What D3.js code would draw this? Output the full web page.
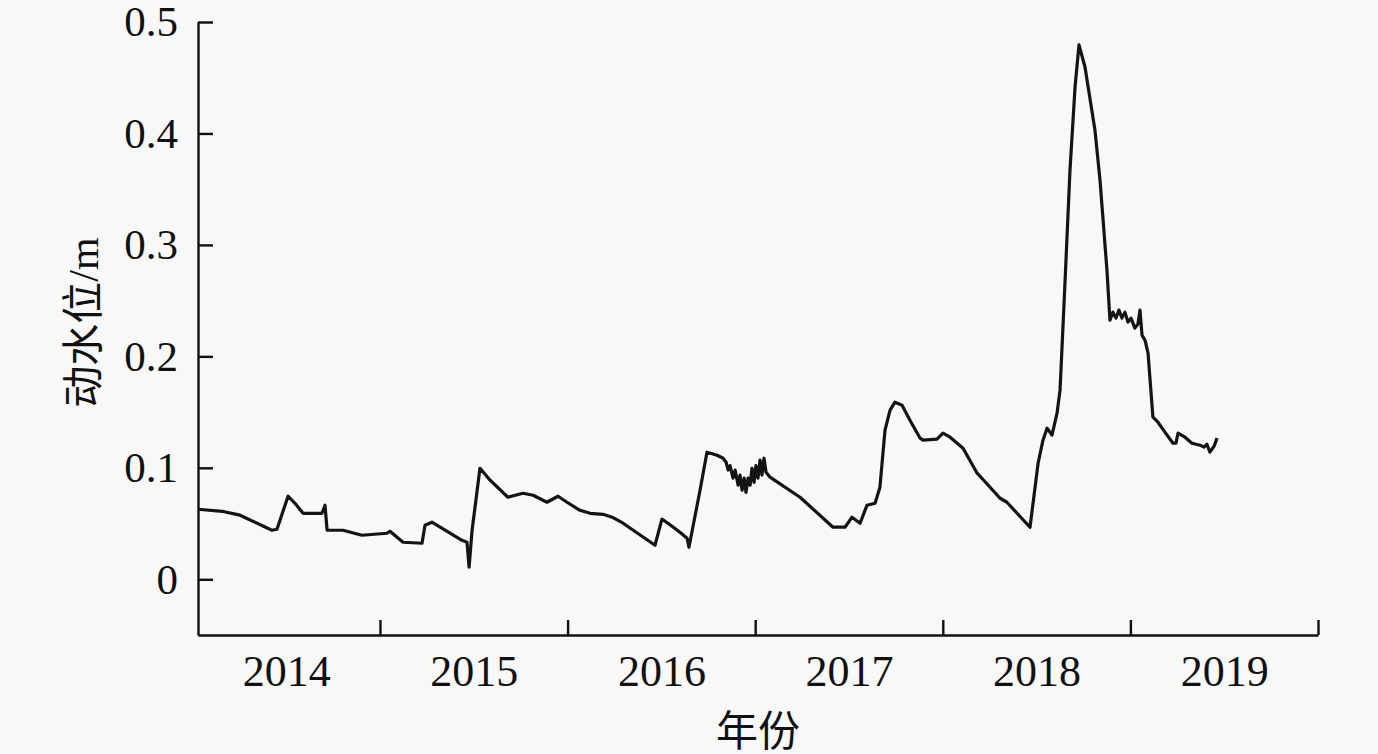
<!DOCTYPE html>
<html>
<head>
<meta charset="utf-8">
<script src="https://cdn.jsdelivr.net/npm/d3@7"></script>
<style>
  html, body { margin: 0; padding: 0; background: #f8f8f8; }
  svg { display: block; }
  text { font-family: "Liberation Serif", "Times New Roman", "Noto Sans CJK SC", serif; fill: #111; }
</style>
</head>
<body>
<svg id="chart" width="1378" height="754"></svg>
<script>
// ---- data (fractional year, dynamic water level in m) ----
const years = [
  2014.030, 2014.158, 2014.254, 2014.424, 2014.451, 2014.510, 2014.547, 2014.590, 2014.691, 2014.707,
  2014.718, 2014.803, 2014.904, 2015.037, 2015.053, 2015.123, 2015.224, 2015.240, 2015.277, 2015.437,
  2015.464, 2015.475, 2015.491, 2015.533, 2015.587, 2015.682, 2015.762, 2015.816, 2015.890, 2015.949,
  2015.997, 2016.066, 2016.120, 2016.189, 2016.237, 2016.296, 2016.466, 2016.503, 2016.535, 2016.599,
  2016.637, 2016.647, 2016.706, 2016.743, 2016.797, 2016.829, 2016.845, 2016.856, 2016.866, 2016.882,
  2016.893, 2016.909, 2016.919, 2016.930, 2016.941, 2016.951, 2016.962, 2016.973, 2016.983, 2016.994,
  2017.004, 2017.015, 2017.026, 2017.036, 2017.047, 2017.058, 2017.079, 2017.239, 2017.415, 2017.479,
  2017.516, 2017.559, 2017.596, 2017.639, 2017.665, 2017.692, 2017.719, 2017.745, 2017.783, 2017.825,
  2017.879, 2017.895, 2017.969, 2018.001, 2018.039, 2018.108, 2018.183, 2018.252, 2018.305, 2018.342,
  2018.396, 2018.465, 2018.508, 2018.534, 2018.556, 2018.582, 2018.609, 2018.625, 2018.652, 2018.678,
  2018.705, 2018.726, 2018.758, 2018.811, 2018.838, 2018.875, 2018.891, 2018.907, 2018.923, 2018.939,
  2018.955, 2018.971, 2018.987, 2019.003, 2019.024, 2019.040, 2019.051, 2019.062, 2019.078, 2019.094,
  2019.120, 2019.147, 2019.184, 2019.227, 2019.243, 2019.254, 2019.291, 2019.328, 2019.350, 2019.371,
  2019.392, 2019.408, 2019.424, 2019.446, 2019.462
];
const waterLevel = [
  0.0628, 0.0610, 0.0575, 0.0440, 0.0449, 0.0745, 0.0682, 0.0592, 0.0592, 0.0664,
  0.0440, 0.0440, 0.0395, 0.0413, 0.0431, 0.0332, 0.0323, 0.0485, 0.0512, 0.0350,
  0.0332, 0.0108, 0.0440, 0.0996, 0.0889, 0.0736, 0.0772, 0.0754, 0.0691, 0.0745,
  0.0691, 0.0619, 0.0592, 0.0583, 0.0557, 0.0503, 0.0305, 0.0539, 0.0503, 0.0422,
  0.0368, 0.0287, 0.0799, 0.1140, 0.1113, 0.1086, 0.1050, 0.0980, 0.1020, 0.0907,
  0.0980, 0.0844, 0.0934, 0.0800, 0.0907, 0.0780, 0.0907, 0.0844, 0.0996, 0.0870,
  0.1020, 0.0907, 0.1070, 0.0934, 0.1086, 0.0960, 0.0916, 0.0736, 0.0467, 0.0467,
  0.0557, 0.0503, 0.0664, 0.0682, 0.0826, 0.1338, 0.1517, 0.1589, 0.1562, 0.1427,
  0.1266, 0.1248, 0.1257, 0.1311, 0.1275, 0.1176, 0.0952, 0.0826, 0.0727, 0.0691,
  0.0592, 0.0467, 0.1041, 0.1248, 0.1356, 0.1293, 0.1490, 0.1697, 0.2684, 0.3671,
  0.4417, 0.4794, 0.4596, 0.4031, 0.3582, 0.2774, 0.2325, 0.2397, 0.2343, 0.2415,
  0.2343, 0.2397, 0.2307, 0.2343, 0.2253, 0.2289, 0.2415, 0.2190, 0.2145, 0.2029,
  0.1454, 0.1409, 0.1320, 0.1221, 0.1221, 0.1311, 0.1275, 0.1221, 0.1212, 0.1203,
  0.1185, 0.1212, 0.1140, 0.1194, 0.1266
];
const yearTicks = [2015, 2016, 2017, 2018, 2019, 2020];
const yearLabels = ["2014", "2015", "2016", "2017", "2018", "2019"];
const yTicks = [0, 0.1, 0.2, 0.3, 0.4, 0.5];
const xTitle = "年份";
const yTitle = "动水位/m";

// ---- layout ----
const svg = d3.select("#chart");
const plotLeft = 198, plotRight = 1318, plotTop = 22, plotBottom = 635;

const x = d3.scaleLinear().domain([2014.03, 2020]).range([plotLeft, plotRight]);
const y = d3.scaleLinear().domain([-0.05, 0.5]).range([plotBottom, plotTop]);

const data = years.map((t, i) => ({ t, v: waterLevel[i] }));

// y axis
const yAxis = d3.axisLeft(y)
  .tickValues(yTicks)
  .tickSizeInner(-15)
  .tickSizeOuter(0)
  .tickPadding(20)
  .tickFormat(d => d === 0 ? "0" : d3.format(".1f")(d));
const gy = svg.append("g").attr("transform", `translate(${plotLeft},0)`).call(yAxis);
gy.select(".domain").attr("stroke", "#111").attr("stroke-width", 2.4);
gy.selectAll(".tick line").attr("stroke", "#111").attr("stroke-width", 2.4);
gy.selectAll(".tick text").attr("font-size", 43).attr("font-family", "Liberation Serif").attr("fill", "#111");

// x axis with ticks at year boundaries
const xAxis = d3.axisBottom(x)
  .tickValues(yearTicks)
  .tickSizeInner(-15)
  .tickSizeOuter(0)
  .tickFormat("");
const gx = svg.append("g").attr("transform", `translate(0,${plotBottom})`).call(xAxis);
gx.select(".domain").attr("stroke", "#111").attr("stroke-width", 2.4);
gx.selectAll(".tick line").attr("stroke", "#111").attr("stroke-width", 2.4);

// year labels centred in each year
const labelAxis = d3.axisBottom(x)
  .tickValues(yearLabels.map(s => +s + 0.5))
  .tickSize(0)
  .tickPadding(20)
  .tickFormat((d, i) => yearLabels[i]);
const gl = svg.append("g").attr("transform", `translate(0,${plotBottom})`).call(labelAxis);
gl.select(".domain").remove();
gl.selectAll(".tick text").attr("font-size", 44).attr("font-family", "Liberation Serif").attr("fill", "#111");

// line
const line = d3.line().x(d => x(d.t)).y(d => y(d.v));
svg.append("path")
  .datum(data)
  .attr("d", line)
  .attr("fill", "none")
  .attr("stroke", "#141414")
  .attr("stroke-width", 3.2)
  .attr("stroke-linejoin", "round");

// titles
svg.append("text")
  .attr("x", (plotLeft + plotRight) / 2)
  .attr("y", 746)
  .attr("text-anchor", "middle")
  .attr("font-size", 42)
  .text(xTitle);

svg.append("text")
  .attr("transform", `translate(98,${(plotTop + plotBottom) / 2 - 6}) rotate(-90)`)
  .attr("text-anchor", "middle")
  .attr("font-size", 42)
  .text(yTitle);
</script>
</body>
</html>
